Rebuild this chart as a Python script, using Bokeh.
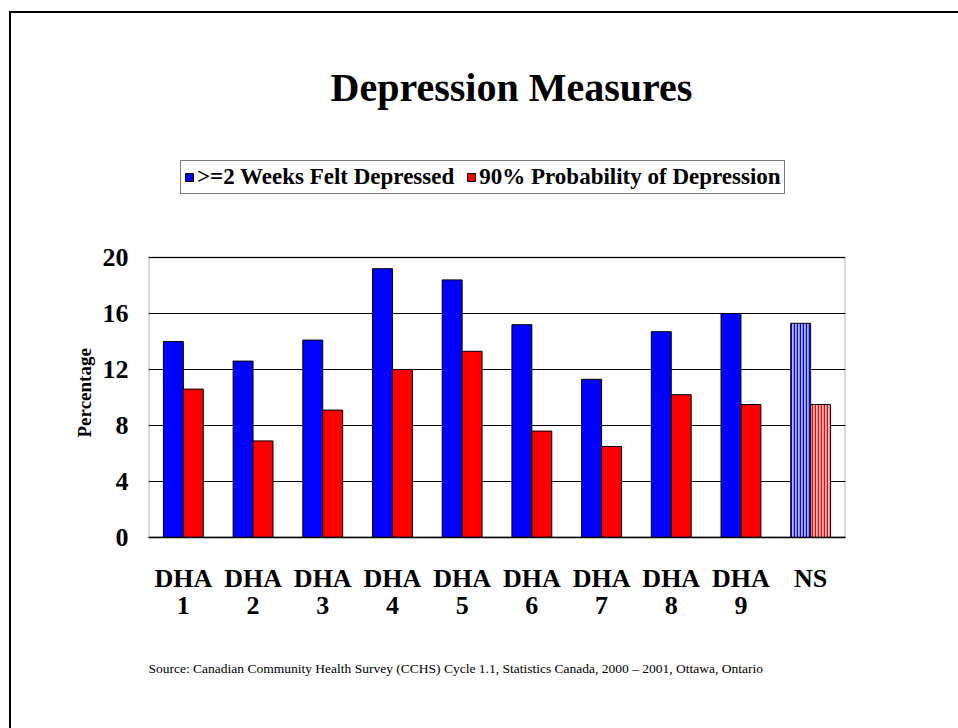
from bokeh.plotting import figure
from bokeh.models import (ColumnDataSource, FactorRange, Range1d, FixedTicker, Legend,
                          LegendItem, Title, BoxAnnotation)
from bokeh.transform import dodge
from bokeh.embed import file_html
from bokeh.resources import INLINE

categories = ["DHA\n1", "DHA\n2", "DHA\n3", "DHA\n4", "DHA\n5", "DHA\n6", "DHA\n7", "DHA\n8", "DHA\n9", "NS"]
felt_depressed = [14.0, 12.6, 14.1, 19.2, 18.4, 15.2, 11.3, 14.7, 16.0, 15.3]
prob_depression = [10.6, 6.9, 9.1, 12.0, 13.3, 7.6, 6.5, 10.2, 9.5, 9.5]
y_ticks = [0, 4, 8, 12, 16, 20]
Y_MAX = 20

SERIF = "Liberation Serif"

dha = ColumnDataSource(dict(cat=categories[:-1], blue=felt_depressed[:-1], red=prob_depression[:-1]))
ns = ColumnDataSource(dict(cat=categories[-1:], blue=felt_depressed[-1:], red=prob_depression[-1:]))

frame_css = {
    "background": "linear-gradient(#000,#000) 9px 11px / 2px 100% no-repeat, "
                  "linear-gradient(#000,#000) 9px 11px / 100% 2px no-repeat, #fff"
}

# frame extends above the value axis to hold the legend; top of the value scale is 20
p = figure(width=958, height=728, x_range=FactorRange(*categories),
           y_range=Range1d(0, Y_MAX + 107 / 14.0),
           output_backend="svg", toolbar_location=None,
           min_border_left=148, min_border_right=113, min_border_top=150, min_border_bottom=191,
           styles=frame_css)
p.border_fill_color = None
p.background_fill_color = "white"
p.outline_line_color = None

p.x_range.range_padding = 0
p.x_range.factor_padding = 0

bw = 0.286
r1 = p.vbar(x=dodge("cat", -0.143, range=p.x_range), top="blue", width=bw, source=dha,
            fill_color="#0000ff", line_color="black", line_width=1)
r2 = p.vbar(x=dodge("cat", 0.143, range=p.x_range), top="red", width=bw, source=dha,
            fill_color="#ff0000", line_color="black", line_width=1)
p.vbar(x=dodge("cat", -0.143, range=p.x_range), top="blue", width=bw, source=ns,
       fill_color="#b8b8ff", hatch_pattern="|", hatch_color="#0000ff", hatch_scale=3,
       hatch_weight=1.5, line_color="black", line_width=1)
p.vbar(x=dodge("cat", 0.143, range=p.x_range), top="red", width=bw, source=ns,
       fill_color="#ffc0c0", hatch_pattern="|", hatch_color="#ff0000", hatch_scale=3,
       hatch_weight=1.5, line_color="black", line_width=1)

# plot-area box (0..20)
p.add_layout(BoxAnnotation(left=0, right=len(categories), bottom=0, top=Y_MAX,
                           fill_color=None, fill_alpha=0, line_color="black", line_width=2,
                           level="overlay"))

# axes and grid
p.xgrid.grid_line_color = None
p.ygrid.grid_line_color = "black"
p.ygrid.grid_line_width = 1
p.ygrid.grid_line_alpha = 1
p.yaxis.ticker = FixedTicker(ticks=y_ticks)

for ax in (p.xaxis, p.yaxis):
    ax.major_tick_line_color = None
    ax.minor_tick_line_color = None
    ax.major_label_text_font = SERIF
    ax.major_label_text_font_style = "bold"
    ax.major_label_text_color = "black"
p.yaxis.axis_line_color = None
p.xaxis.axis_line_color = "black"
p.xaxis.axis_line_width = 1.5

p.xaxis.major_label_text_font_size = "26px"
p.xaxis.major_label_standoff = 20
p.xaxis.major_label_text_line_height = 0.95
p.yaxis.major_label_text_font_size = "26px"
p.yaxis.major_label_standoff = 14

# y-axis title, placed along the 0..20 part of the axis
p.add_layout(Title(text="Percentage", align="left", offset=100, standoff=9,
                   text_font=SERIF, text_font_style="bold", text_font_size="19px",
                   text_color="black"), "left")

# legend (inside the extended frame, above the value area)
legend = Legend(items=[LegendItem(label=">=2 Weeks Felt Depressed", renderers=[r1]),
                       LegendItem(label="90% Probability of Depression", renderers=[r2])],
                orientation="horizontal", location=(32, 343),
                label_text_font=SERIF, label_text_font_style="bold", label_text_font_size="23px",
                label_text_color="black",
                glyph_width=10, glyph_height=10, label_standoff=3, spacing=12, padding=3,
                margin=0, border_line_color="black", border_line_width=1,
                background_fill_color="white", background_fill_alpha=1)
p.add_layout(legend, "center")

# title
p.add_layout(Title(text="Depression Measures", align="left", offset=182, standoff=81,
                   text_font=SERIF, text_font_style="bold", text_font_size="40px",
                   text_color="black"), "above")

# source note
p.add_layout(Title(text="Source:  Canadian Community Health Survey (CCHS) Cycle 1.1, Statistics Canada, 2000 \u2013 2001, Ottawa, Ontario",
                   align="left", offset=0, standoff=71, text_font=SERIF, text_font_style="normal",
                   text_font_size="13.5px", text_color="black"), "below")

open("out.html", "w").write(file_html(p, INLINE))
